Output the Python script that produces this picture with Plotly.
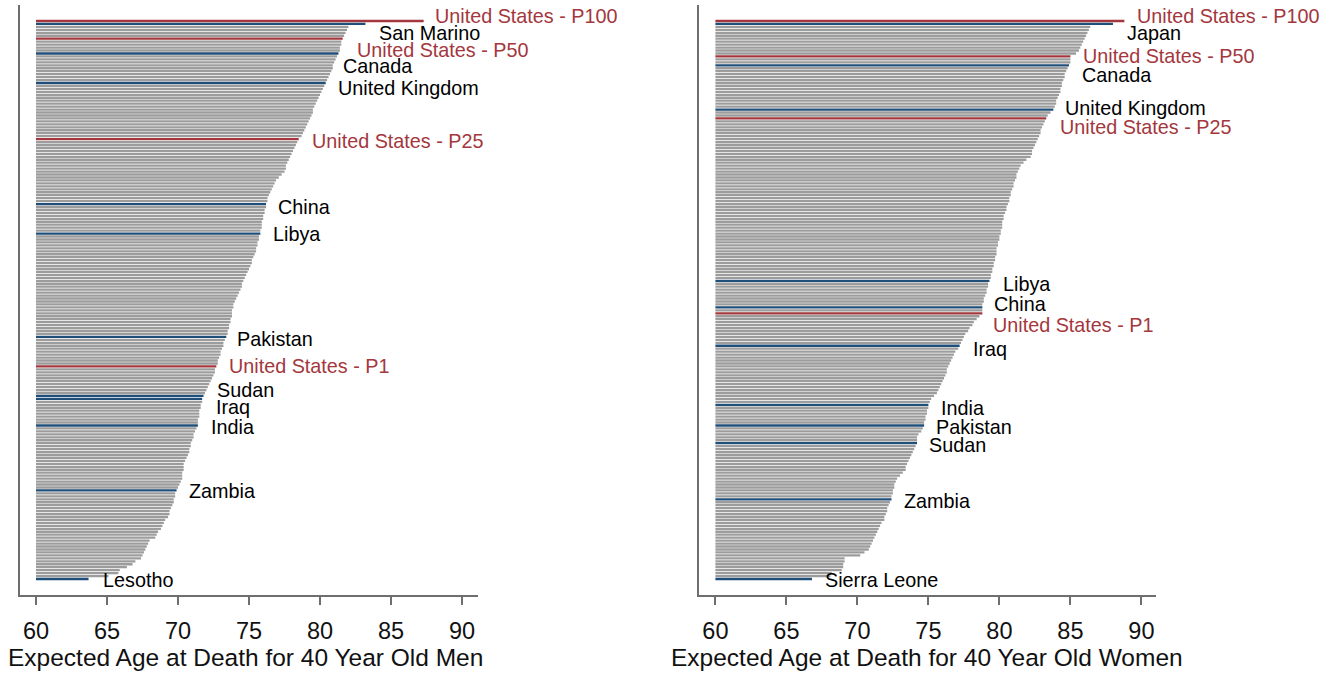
import plotly.graph_objects as go

# Expected age at death for 40-year-olds, one row per country / US income percentile,
# sorted from longest to shortest.
men_age = [
    87.3, 83.2, 82.0, 81.9, 81.8, 81.7, 81.6, 81.5, 81.5, 81.4,
    81.4, 81.3, 81.2, 81.1, 81.0, 80.9, 80.9, 80.8, 80.7, 80.6,
    80.5, 80.4, 80.3, 80.2, 80.1, 80.0, 79.9, 79.8, 79.7, 79.6,
    79.5, 79.5, 79.4, 79.3, 79.2, 79.1, 79.0, 78.9, 78.8, 78.7,
    78.5, 78.4, 78.3, 78.2, 78.1, 78.0, 77.9, 77.8, 77.7, 77.6,
    77.6, 77.5, 77.3, 77.1, 76.9, 76.8, 76.7, 76.6, 76.5, 76.4,
    76.3, 76.3, 76.2, 76.2, 76.1, 76.1, 76.0, 76.0, 75.9, 75.9,
    75.9, 75.8, 75.8, 75.7, 75.7, 75.6, 75.6, 75.5, 75.5, 75.4,
    75.3, 75.2, 75.2, 75.1, 75.0, 74.9, 74.8, 74.7, 74.6, 74.5,
    74.5, 74.4, 74.3, 74.2, 74.1, 74.0, 73.9, 73.9, 73.8, 73.8,
    73.8, 73.7, 73.7, 73.6, 73.6, 73.5, 73.5, 73.4, 73.3, 73.2,
    73.2, 73.1, 73.0, 73.0, 72.9, 72.8, 72.8, 72.7, 72.6, 72.6,
    72.5, 72.4, 72.3, 72.2, 72.1, 72.0, 71.9, 71.8, 71.7, 71.7,
    71.6, 71.6, 71.5, 71.5, 71.5, 71.4, 71.4, 71.4, 71.3, 71.2,
    71.1, 71.1, 71.0, 70.9, 70.9, 70.8, 70.8, 70.7, 70.6, 70.5,
    70.4, 70.4, 70.4, 70.3, 70.3, 70.3, 70.2, 70.1, 70.0, 69.9,
    69.8, 69.8, 69.7, 69.7, 69.6, 69.5, 69.4, 69.4, 69.3, 69.1,
    69.0, 68.9, 68.8, 68.6, 68.5, 68.4, 68.0, 67.9, 67.8, 67.7,
    67.6, 67.5, 67.4, 67.0, 66.8, 66.4, 65.9, 65.8, 65.1, 63.7,
]

women_age = [
    88.8, 88.0, 86.4, 86.3, 86.2, 86.1, 86.0, 85.9, 85.8, 85.7,
    85.6, 85.4, 85.0, 85.0, 85.0, 84.9, 84.8, 84.7, 84.6, 84.6,
    84.5, 84.4, 84.4, 84.3, 84.3, 84.2, 84.1, 84.0, 84.0, 83.9,
    83.8, 83.6, 83.4, 83.3, 83.2, 83.1, 83.0, 82.9, 82.9, 82.8,
    82.7, 82.6, 82.5, 82.4, 82.3, 82.3, 82.2, 81.9, 81.7, 81.5,
    81.4, 81.3, 81.2, 81.2, 81.1, 81.0, 81.0, 80.9, 80.8, 80.8,
    80.7, 80.7, 80.6, 80.5, 80.5, 80.4, 80.3, 80.3, 80.2, 80.2,
    80.2, 80.1, 80.1, 80.0, 80.0, 79.9, 79.9, 79.8, 79.8, 79.8,
    79.7, 79.7, 79.6, 79.6, 79.5, 79.5, 79.4, 79.4, 79.3, 79.2,
    79.2, 79.1, 79.1, 79.0, 78.9, 78.9, 78.8, 78.8, 78.8, 78.8,
    78.6, 78.4, 78.2, 78.1, 77.9, 77.8, 77.6, 77.5, 77.4, 77.3,
    77.2, 77.1, 76.9, 76.8, 76.7, 76.6, 76.5, 76.4, 76.3, 76.3,
    76.2, 76.1, 76.0, 75.9, 75.8, 75.7, 75.6, 75.4, 75.2, 75.1,
    75.0, 75.0, 74.9, 74.9, 74.8, 74.8, 74.7, 74.7, 74.6, 74.5,
    74.3, 74.2, 74.2, 74.2, 74.1, 74.0, 73.9, 73.8, 73.7, 73.6,
    73.5, 73.4, 73.4, 73.2, 73.0, 72.8, 72.7, 72.6, 72.6, 72.5,
    72.5, 72.4, 72.4, 72.3, 72.2, 72.1, 72.1, 72.0, 71.9, 71.9,
    71.7, 71.6, 71.5, 71.4, 71.3, 71.2, 71.1, 71.0, 70.9, 70.8,
    70.5, 70.2, 69.1, 69.1, 69.0, 69.0, 68.9, 68.2, 68.1, 66.8,
]

# Highlighted rows and their names
men_label_rows = [0, 1, 6, 11, 21, 40, 62, 72, 107, 117, 127, 128, 137, 159, 189]
men_label_text = [
    "United States - P100", "San Marino", "United States - P50", "Canada",
    "United Kingdom", "United States - P25", "China", "Libya", "Pakistan",
    "United States - P1", "Sudan", "Iraq", "India", "Zambia", "Lesotho",
]
women_label_rows = [0, 1, 12, 15, 30, 33, 88, 97, 99, 110, 130, 137, 143, 162, 189]
women_label_text = [
    "United States - P100", "Japan", "United States - P50", "Canada",
    "United Kingdom", "United States - P25", "Libya", "China",
    "United States - P1", "Iraq", "India", "Pakistan", "Sudan", "Zambia",
    "Sierra Leone",
]

x_ticks = [60, 65, 70, 75, 80, 85, 90]
men_title = "Expected Age at Death for 40 Year Old Men"
women_title = "Expected Age at Death for 40 Year Old Women"

# ---- styling ----
BASE = 60
GRAY = "#9c9c9c"
BLUE = "#1f4e79"
RED = "#a3373d"
AXIS = "#6e6e6e"
TEXT = "#111111"
FONT = "Liberation Sans, Arial, sans-serif"
W, H = 1331, 675

# label nudges in pixels (dx right, dy up)
men_label_dx = [9, 12, 12, 3, 10, 11, 10, 11, 9, 11, 11, 12, 11, 10, 12]
men_label_dy = [5, -9, -11, -13, -5, -2, -3, 0, -2, 0, 6, -8, -2, -1, -1]
women_label_dx = [11, 12, 11, 11, 10, 12, 12, 10, 9, 11, 11, 10, 10, 11, 11]
women_label_dy = [5, -9, 0, -10, 2, -9, -3, 3, -12, -3, -3, -2, -2, -2, -1]


def is_us(name):
    return name.startswith("United States")


def bar_colors(n, rows, texts):
    cols = [GRAY] * n
    for r, t in zip(rows, texts):
        cols[r] = RED if is_us(t) else BLUE
    return cols


fig = go.Figure()

panels = [
    (men_age, men_label_rows, men_label_text, men_label_dx, men_label_dy, "x", "y"),
    (women_age, women_label_rows, women_label_text, women_label_dx, women_label_dy, "x2", "y2"),
]

annotations = []
for ages, lrows, ltext, ldx, ldy, xa, ya in panels:
    rows = list(range(len(ages)))
    fig.add_trace(go.Bar(
        y=rows,
        x=[a - BASE for a in ages],
        base=BASE,
        orientation="h",
        marker=dict(color=bar_colors(len(ages), lrows, ltext), line=dict(width=0)),
        xaxis=xa, yaxis=ya,
        hoverinfo="skip",
        showlegend=False,
    ))
    for r, t, dx, dy in zip(lrows, ltext, ldx, ldy):
        annotations.append(dict(
            x=ages[r], y=r, xref=xa, yref=ya,
            text=t, showarrow=False,
            xanchor="left", yanchor="middle",
            xshift=dx, yshift=dy,
            font=dict(family=FONT, size=19.8, color=RED if is_us(t) else "#000000"),
        ))

# axis titles, centred under each panel
for title, cx in [(men_title, 245), (women_title, 927)]:
    annotations.append(dict(
        x=cx / W, y=(H - 657) / H, xref="paper", yref="paper",
        text=title, showarrow=False, xanchor="center", yanchor="middle",
        font=dict(family=FONT, size=24.5, color=TEXT),
    ))

n_rows = len(men_age)
px_per_row = 558 / (n_rows - 1)
y_range = [(595 - 21) / px_per_row, (5 - 21) / px_per_row]
y_dom = [(H - 595) / H, (H - 5) / H]

xaxis_common = dict(
    tickvals=x_ticks,
    ticktext=[str(t) for t in x_ticks],
    ticks="outside", ticklen=8, tickwidth=1.5, tickcolor=AXIS,
    ticklabelstandoff=6,
    showline=True, linecolor=AXIS, linewidth=1.5,
    showgrid=False, zeroline=False,
    tickfont=dict(family=FONT, size=23.5, color=TEXT),
    fixedrange=True,
)
yaxis_common = dict(
    range=y_range, domain=y_dom,
    showline=True, linecolor=AXIS, linewidth=1.5,
    showticklabels=False, ticks="", showgrid=False, zeroline=False,
    fixedrange=True,
)

fig.update_layout(
    width=W, height=H,
    margin=dict(l=0, r=0, t=0, b=0),
    paper_bgcolor="white", plot_bgcolor="white",
    bargap=0.22,
    xaxis=dict(xaxis_common, domain=[20 / W, 478 / W],
               range=[60 - 16 / 14.2, 90 + 16 / 14.2], anchor="y"),
    xaxis2=dict(xaxis_common, domain=[699 / W, 1156 / W],
                range=[60 - 16.4 / 14.2, 90 + 14.6 / 14.2], anchor="y2"),
    yaxis=dict(yaxis_common, anchor="x"),
    yaxis2=dict(yaxis_common, anchor="x2"),
    annotations=annotations,
    showlegend=False,
)

fig.write_html("out.html")
